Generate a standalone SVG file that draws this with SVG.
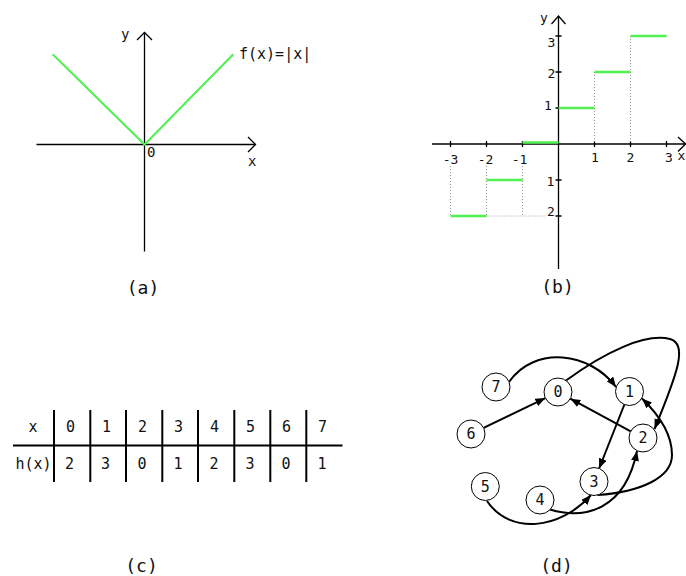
<svg xmlns="http://www.w3.org/2000/svg" width="686" height="576" viewBox="0 0 686 576">
<style>
text{font-family:"DejaVu Sans Mono","Liberation Mono",monospace;fill:#111}
.cap{font-size:18px;text-anchor:middle}
.ax{stroke:#000;stroke-width:1.3;fill:none}
.g{stroke:#50f050;stroke-width:2.6;fill:none}
.dot{stroke:#999;stroke-width:1;stroke-dasharray:1,2;fill:none}
.s13{font-size:13px}
.s14{font-size:14px}
.t{font-size:15px;text-anchor:middle}
.tl{stroke:#000;stroke-width:2;fill:none}
.node circle{fill:#fff;stroke:#000;stroke-width:1}
.node text{font-size:15px;text-anchor:middle}
.edge{stroke:#000;stroke-width:2;fill:none;marker-end:url(#ah)}
</style>
<defs>
<marker id="ah" markerUnits="userSpaceOnUse" markerWidth="11" markerHeight="8" refX="10" refY="4" orient="auto">
<path d="M0,0 L10,4 L0,8 z" fill="#000"/>
</marker>
</defs>
<rect width="686" height="576" fill="#fff"/>

<!-- (a) -->
<g id="plot-a">
<line class="ax" x1="36.5" y1="144.5" x2="255.5" y2="144.5"/>
<polyline class="ax" points="248,137 255.5,144.5 248,152"/>
<line class="ax" x1="144.5" y1="32.5" x2="144.5" y2="251.5"/>
<polyline class="ax" points="137,40 144.5,32.5 152,40"/>
<polyline class="g" style="stroke-width:2" points="52.7,54.3 144.5,144.5 233.3,54.3"/>
<text class="s14" x="121" y="39">y</text>
<text class="s14" x="147" y="157">0</text>
<text class="s14" x="248" y="166">x</text>
<text x="239" y="59" font-size="15">f(x)=|x|</text>
<text class="cap" x="143" y="294">(a)</text>
</g>

<!-- (b) -->
<g id="plot-b">
<line class="ax" x1="432" y1="144" x2="685.5" y2="144"/>
<polyline class="ax" points="678,137 685.5,144 678,151.5"/>
<line class="ax" x1="558.5" y1="16" x2="558.5" y2="269"/>
<polyline class="ax" points="551.5,24 558.5,16 565.5,24"/>
<path class="ax" d="M450.5,141V147M486.5,141V147M522.5,141V147M594.5,141V147M630.5,141V147M666.5,141V147M555.5,36H561.5M555.5,72H561.5M555.5,108H561.5M555.5,180H561.5M555.5,216H561.5"/>
<path class="dot" d="M594.5,72V144M630.5,36V144M450.5,166V216M486.5,166V216M522.5,166V216M486.5,216H545"/>
<path class="g" d="M450.5,216H486.5M486.5,180H522.5M522.5,142.5H558.5M558.5,108H594.5M594.5,72H630.5M630.5,36H666.5"/>
<text class="s13" x="540" y="22">y</text>
<text class="s13" x="677.5" y="160">x</text>
<g class="s13" text-anchor="middle">
<text x="450.5" y="164">-3</text>
<text x="485.5" y="164">-2</text>
<text x="519.5" y="164">-1</text>
<text x="595" y="162">1</text>
<text x="630.5" y="162">2</text>
<text x="669" y="162">3</text>
<text x="551.5" y="46.5">3</text>
<text x="551.5" y="78">2</text>
<text x="548" y="110">1</text>
<text x="550.5" y="185.5">1</text>
<text x="551" y="215.5">2</text>
</g>
<text class="cap" x="557.5" y="293">(b)</text>
</g>

<!-- (c) -->
<g id="table-c">
<line class="tl" x1="13" y1="445.5" x2="342.5" y2="445.5"/>
<path class="tl" d="M54,410V482M90.3,410V482M126,410V482M162.3,410V482M198,410V482M234.3,410V482M270.3,410V482M306.3,410V482"/>
<g class="t">
<text x="33" y="432">x</text>
<text x="70.5" y="432">0</text>
<text x="106.5" y="432">1</text>
<text x="142.5" y="432">2</text>
<text x="178.5" y="432">3</text>
<text x="214.5" y="432">4</text>
<text x="250.5" y="432">5</text>
<text x="286.5" y="432">6</text>
<text x="322.5" y="432">7</text>
<text x="33.5" y="468.5">h(x)</text>
<text x="69.5" y="468.5">2</text>
<text x="105.5" y="468.5">3</text>
<text x="142" y="468.5">0</text>
<text x="178" y="468.5">1</text>
<text x="214" y="468.5">2</text>
<text x="250" y="468.5">3</text>
<text x="286" y="468.5">0</text>
<text x="322" y="468.5">1</text>
</g>
<text class="cap" x="141.5" y="572">(c)</text>
</g>

<!-- (d) -->
<g id="connectors">
<path class="edge" d="M509,382 C535,345 590,352 616,387"/>
<path class="edge" d="M566,380.5 C605,352 645,333 670,339 C688,344 678,372 654.5,429"/>
<path class="edge" d="M483.6,427.9 L545.4,398.1"/>
<path class="edge" d="M630.7,431.3 L570.3,398.7"/>
<path class="edge" d="M624.4,404.5 L599.1,468.5"/>
<path class="edge" d="M597.5,495 C640,492 672,478 672,455 C672,432 656,412 642,398.5"/>
<path class="edge" d="M550,509.5 C585,520 625,510 637,451"/>
<path class="edge" d="M487,501 C510,535 560,530 591,495"/>
</g>
<g id="node-0" class="node"><circle cx="558" cy="392" r="14"/><text x="558" y="397">0</text></g>
<g id="node-1" class="node"><circle cx="629.5" cy="391.5" r="14"/><text x="629.5" y="396.5">1</text></g>
<g id="node-2" class="node"><circle cx="643" cy="438" r="14"/><text x="643" y="443">2</text></g>
<g id="node-3" class="node"><circle cx="594" cy="481.5" r="14"/><text x="594" y="486.5">3</text></g>
<g id="node-4" class="node"><circle cx="540" cy="500" r="14"/><text x="540" y="505">4</text></g>
<g id="node-5" class="node"><circle cx="485.3" cy="486.5" r="14"/><text x="485.3" y="491.5">5</text></g>
<g id="node-6" class="node"><circle cx="471" cy="434" r="14"/><text x="471" y="439">6</text></g>
<g id="node-7" class="node"><circle cx="496" cy="387" r="14"/><text x="496" y="392">7</text></g>
<text class="cap" x="556.5" y="572">(d)</text>
</svg>
